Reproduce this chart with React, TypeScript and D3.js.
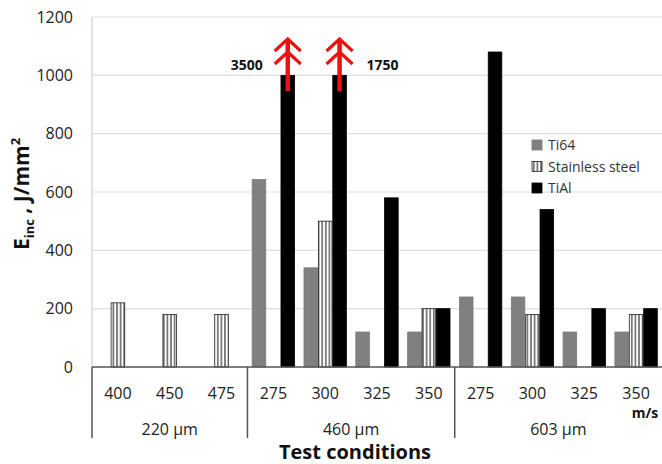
import React, { useRef, useEffect } from 'react';
import * as d3 from 'd3';

// impact speeds (m/s) for each condition, grouped by projectile diameter
const speeds = ['400', '450', '475', '275', '300', '325', '350', '275', '300', '325', '350'];
const diameters = ['220 µm', '460 µm', '603 µm'];
const groupSizes = [3, 4, 4];

const seriesNames = ['Ti64', 'Stainless steel', 'TiAl'];
const ti64 = [null, null, null, 643, 340, 120, 120, 240, 240, 120, 120];
const stainless = [220, 180, 180, null, 500, null, 200, null, 180, null, 180];
const tial = [null, null, null, 3500, 1750, 580, 200, 1080, 540, 200, 200];

const yTicks = [0, 200, 400, 600, 800, 1000, 1200];
const yMax = 1200;
// bars above the axis max are drawn broken at this value
const breakAt = 1000;

const W = 662;
const H = 464;

const App = () => {
  const ref = useRef<SVGSVGElement>(null);

  useEffect(() => {
    const svg = d3.select(ref.current);
    svg.selectAll('*').remove();

    const font = '"Open Sans", "DejaVu Sans", sans-serif';
    const left = 92, right = 662, top = 17, bottom = 367;

    const x = d3.scaleBand<number>()
      .domain(speeds.map((_, i) => i))
      .range([left, right])
      .padding(0);

    const inner = d3.scaleBand<string>()
      .domain(seriesNames)
      .range([0, x.bandwidth()])
      .paddingInner(0)
      .paddingOuter(0.3);

    const y = d3.scaleLinear().domain([0, yMax]).range([bottom, top]);
    const shown = (v: number) => (v > yMax ? breakAt : v);

    // stripe pattern for stainless steel
    const defs = svg.append('defs');
    const pat = defs.append('pattern')
      .attr('id', 'stripes')
      .attr('patternUnits', 'userSpaceOnUse')
      .attr('width', 3.6)
      .attr('height', 10);
    pat.append('rect').attr('width', 3.6).attr('height', 10).attr('fill', '#fff');
    pat.append('line')
      .attr('x1', 1.8).attr('x2', 1.8).attr('y1', 0).attr('y2', 10)
      .attr('stroke', '#111').attr('stroke-width', 1);

    // gridlines
    svg.append('g')
      .selectAll('line')
      .data(yTicks.filter(t => t > 0))
      .join('line')
      .attr('x1', left).attr('x2', right)
      .attr('y1', d => y(d)).attr('y2', d => y(d))
      .attr('stroke', '#dedede').attr('stroke-width', 1.2);

    // y axis line (light)
    svg.append('line')
      .attr('x1', left).attr('x2', left).attr('y1', top).attr('y2', bottom)
      .attr('stroke', '#d0d0d0').attr('stroke-width', 1.2);

    // y tick labels
    const yAxis = svg.append('g')
      .attr('transform', `translate(${left - 4},0)`)
      .call(d3.axisLeft(y).tickValues(yTicks).tickFormat(d3.format('d')).tickSize(0).tickPadding(15));
    yAxis.select('.domain').remove();
    yAxis.selectAll('text')
      .attr('font-family', font)
      .attr('font-size', 16)
      .attr('fill', '#222');

    // bars
    const series = [
      { name: 'Ti64', vals: ti64, fill: '#808080', stroke: '#7a7a7a' },
      { name: 'Stainless steel', vals: stainless, fill: 'url(#stripes)', stroke: '#222' },
      { name: 'TiAl', vals: tial, fill: '#000', stroke: '#000' },
    ];

    series.forEach(s => {
      const pts = s.vals
        .map((v, i) => ({ v, i }))
        .filter(d => d.v != null) as { v: number; i: number }[];
      svg.append('g')
        .selectAll('rect')
        .data(pts)
        .join('rect')
        .attr('x', d => (x(d.i) as number) + (inner(s.name) as number) + 0.4)
        .attr('width', inner.bandwidth() - 0.8)
        .attr('y', d => y(shown(d.v)))
        .attr('height', d => bottom - y(shown(d.v)))
        .attr('fill', s.fill)
        .attr('stroke', s.stroke)
        .attr('stroke-width', 0.8);
    });

    // red arrows + real values on the broken bars
    const broken = tial
      .map((v, i) => ({ v, i }))
      .filter(d => d.v != null && (d.v as number) > yMax) as { v: number; i: number }[];
    broken.forEach((d, k) => {
      const cx = (x(d.i) as number) + (inner('TiAl') as number) + inner.bandwidth() / 2;
      const g = svg.append('g').attr('stroke', '#ee1111').attr('fill', 'none');
      g.append('line')
        .attr('x1', cx).attr('x2', cx).attr('y1', y(breakAt) + 16).attr('y2', 40)
        .attr('stroke-width', 4.5);
      [39, 52].forEach(ty => {
        g.append('path')
          .attr('d', `M${cx - 13},${ty + 12} L${cx},${ty} L${cx + 13},${ty + 12}`)
          .attr('stroke-width', 3.2)
          .attr('stroke-linejoin', 'miter');
      });
      svg.append('text')
        .attr('x', k === 0 ? cx - 25 : cx + 27)
        .attr('y', 70)
        .attr('text-anchor', k === 0 ? 'end' : 'start')
        .attr('font-family', font)
        .attr('font-weight', 'bold')
        .attr('font-size', 14)
        .attr('fill', '#111')
        .text(d3.format('d')(d.v));
    });

    // x axis base line
    svg.append('line')
      .attr('x1', left).attr('x2', right).attr('y1', bottom).attr('y2', bottom)
      .attr('stroke', '#555').attr('stroke-width', 1.5);

    // speed labels
    svg.append('g')
      .selectAll('text')
      .data(speeds)
      .join('text')
      .attr('x', (_, i) => (x(i) as number) + x.bandwidth() / 2)
      .attr('y', 399)
      .attr('text-anchor', 'middle')
      .attr('font-family', font)
      .attr('font-size', 16)
      .attr('fill', '#222')
      .text(d => d);

    // diameter groups with separators
    let start = 0;
    const seps = [0];
    diameters.forEach((dia, gi) => {
      const end = start + groupSizes[gi];
      const x0 = x(start) as number;
      const x1 = end < speeds.length ? (x(end) as number) : right;
      svg.append('text')
        .attr('x', (x0 + x1) / 2)
        .attr('y', 435)
        .attr('text-anchor', 'middle')
        .attr('font-family', font)
        .attr('font-size', 16)
        .attr('fill', '#222')
        .text(dia);
      if (end < speeds.length) seps.push(end);
      start = end;
    });
    svg.append('g')
      .selectAll('line')
      .data(seps)
      .join('line')
      .attr('x1', d => x(d) as number).attr('x2', d => x(d) as number)
      .attr('y1', bottom).attr('y2', 438)
      .attr('stroke', '#555').attr('stroke-width', 1.5);

    svg.append('text')
      .attr('x', 645).attr('y', 418)
      .attr('text-anchor', 'middle')
      .attr('font-family', font)
      .attr('font-weight', 'bold')
      .attr('font-size', 14)
      .attr('fill', '#111')
      .text('m/s');

    // axis titles
    svg.append('text')
      .attr('x', 355).attr('y', 459)
      .attr('text-anchor', 'middle')
      .attr('font-family', font)
      .attr('font-weight', 'bold')
      .attr('font-size', 20)
      .attr('fill', '#111')
      .text('Test conditions');

    const yt = svg.append('text')
      .attr('transform', 'translate(29,194) rotate(-90)')
      .attr('text-anchor', 'middle')
      .attr('font-family', font)
      .attr('font-weight', 'bold')
      .attr('font-size', 21)
      .attr('fill', '#111');
    yt.append('tspan').text('E');
    yt.append('tspan').attr('font-size', 13).attr('dy', 5).text('inc');
    yt.append('tspan').attr('dy', -5).text(' , J/mm');
    yt.append('tspan').attr('font-size', 13).attr('dy', -9).text('2');

    // legend
    const legend = svg.append('g').attr('transform', 'translate(532,140)');
    series.forEach((s, i) => {
      const row = legend.append('g').attr('transform', `translate(0,${i * 21.5})`);
      row.append('rect')
        .attr('width', 10).attr('height', 10)
        .attr('fill', s.fill)
        .attr('stroke', s.stroke).attr('stroke-width', 0.8);
      row.append('text')
        .attr('x', 16).attr('y', 10)
        .attr('font-family', font)
        .attr('font-size', 14)
        .attr('fill', '#333')
        .text(s.name);
    });
  }, []);

  return (
    <svg
      ref={ref}
      width={W}
      height={H}
      style={{ position: 'absolute', left: 0, top: 0, background: '#fff' }}
    />
  );
};

export default App;
